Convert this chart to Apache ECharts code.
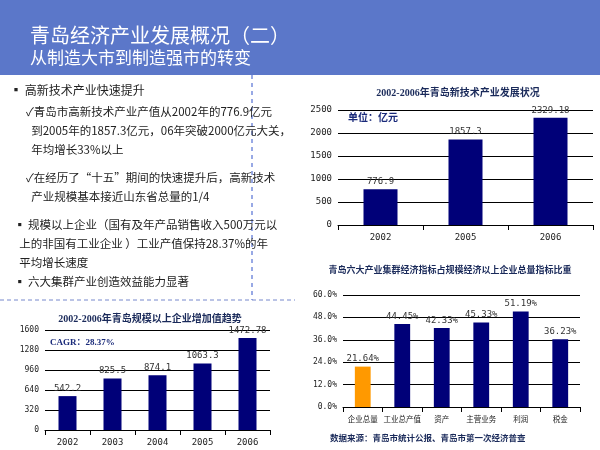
<!DOCTYPE html>
<html><head><meta charset="utf-8">
<script src="https://cdn.jsdelivr.net/npm/echarts@6/dist/echarts.min.js"></script>
<style>html,body{margin:0;padding:0;background:#fff}#c{width:600px;height:450px}</style>
</head><body><div id="c"></div>
<script>
const hiCats = ['2002','2005','2006'];
const hiVals = [776.9,1857.3,2329.18];
const hiLabels = ['776.9','1857.3','2329.18'];
const gyCats = ['2002','2003','2004','2005','2006'];
const gyVals = [542.2,825.5,874.1,1063.3,1472.78];
const gyLabels = ['542.2','825.5','874.1','1063.3','1472.78'];
const clCats = ['企业总量','工业总产值','资产','主营业务','利润','税金'];
const clVals = [21.64,44.45,42.33,45.33,51.19,36.23];
const hiTicks = [0,500,1000,1500,2000,2500];
const gyTicks = [0,320,640,960,1280,1600];
const clTicks = [0,12,24,36,48,60];

const NAVY = '#000078';
const mono = '"DejaVu Sans Mono", monospace';
const serifCJK = '"Liberation Serif","Noto Sans CJK SC",serif';
const cjk = '"Noto Sans CJK SC", sans-serif';

function axisY(gridIndex, ticks, fmt, fs) {
  return {type:'value', gridIndex, min:ticks[0], max:ticks[ticks.length-1], interval:ticks[1]-ticks[0],
    axisLine:{show:false}, axisTick:{show:false},
    splitLine:{lineStyle:{color:'#000',width:1}},
    axisLabel:{fontFamily:mono, fontSize:fs, color:'#222', formatter:fmt, margin:6}};
}
function axisX(gridIndex, cats, fs) {
  return {type:'category', gridIndex, data:cats,
    axisLine:{lineStyle:{color:'#000'}}, axisTick:{show:true,lineStyle:{color:'#000'}},
    axisLabel:{interval:0, fontFamily:(gridIndex===2?cjk:mono), fontSize:fs, color:'#222', margin:8}};
}
const labelStyle = {show:true, position:'top', fontFamily:mono, fontSize:9, color:'#333', distance:3};

const chart = echarts.init(document.getElementById('c'));
chart.setOption({
  animation:false,
  grid:[
    {left:338,top:110,width:255,height:115},
    {left:45,top:330,width:225,height:100},
    {left:343,top:295,width:237,height:112}
  ],
  xAxis:[axisX(0,hiCats,9), axisX(1,gyCats,9), axisX(2,clCats,7.5)],
  yAxis:[axisY(0,hiTicks,v=>String(v),9), axisY(1,gyTicks,v=>String(v),8), axisY(2,clTicks,v=>v.toFixed(1)+'%',8)],
  series:[
    {type:'bar',xAxisIndex:0,yAxisIndex:0,data:hiVals,barWidth:'40%',itemStyle:{color:NAVY},
      label:Object.assign({},labelStyle,{formatter:p=>hiLabels[p.dataIndex]})},
    {type:'bar',xAxisIndex:1,yAxisIndex:1,data:gyVals,barWidth:'40%',itemStyle:{color:NAVY},
      label:Object.assign({},labelStyle,{formatter:p=>gyLabels[p.dataIndex]})},
    {type:'bar',xAxisIndex:2,yAxisIndex:2,barWidth:'40%',
      data:clVals.map((v,i)=>({value:v,itemStyle:{color:i===0?'#ff9900':NAVY}})),
      label:Object.assign({},labelStyle,{formatter:p=>p.value.toFixed(2)+'%'})}
  ],
  graphic:[
    {type:'rect',shape:{x:0,y:0,width:600,height:75},style:{fill:'#5b77c9'}},
    {type:'text',left:30,top:25,style:{text:'青岛经济产业发展概况（二）',font:'20px '+cjk,fill:'#fff'}},
    {type:'text',left:30,top:49,style:{text:'从制造大市到制造强市的转变',font:'17px '+cjk,fill:'#fff'}},
    {type:'line',shape:{x1:252,y1:75,x2:252,y2:300},style:{stroke:'#3355cc',lineDash:[4,4],lineWidth:1}},
    {type:'line',shape:{x1:0,y1:300,x2:295,y2:300},style:{stroke:'#7788cc',lineDash:[4,3],lineWidth:1}},
    {type:'text',left:10,top:84,style:{text:'▪ 高新技术产业快速提升',font:'12px '+cjk,fill:'#222'}},
    {type:'text',left:26,top:102,style:{text:'✓青岛市高新技术产业产值从2002年的776.9亿元\n  到2005年的1857.3亿元，06年突破2000亿元大关，\n  年均增长33%以上',font:'11.5px '+cjk,lineHeight:19,fill:'#222'}},
    {type:'text',left:26,top:168,style:{text:'✓在经历了“十五”期间的快速提升后，高新技术\n  产业规模基本接近山东省总量的1/4',font:'11.5px '+cjk,lineHeight:19,fill:'#222'}},
    {type:'text',left:14,top:215,style:{text:'▪ 规模以上企业（国有及年产品销售收入500万元以\n  上的非国有工业企业 ）工业产值保持28.37%的年\n  平均增长速度',font:'11.5px '+cjk,lineHeight:19,fill:'#222'}},
    {type:'text',left:14,top:276,style:{text:'▪ 六大集群产业创造效益能力显著',font:'11.5px '+cjk,fill:'#222'}},
    {type:'text',x:458,y:93,style:{text:'2002-2006年青岛新技术产业发展状况',font:'bold 10px '+serifCJK,fill:'#1a2a5a',textAlign:'center',textVerticalAlign:'middle'}},
    {type:'text',left:348,top:112,style:{text:'单位：亿元',font:'bold 10px '+cjk,fill:'#1a2a7a'}},
    {type:'text',x:150,y:319,style:{text:'2002-2006年青岛规模以上企业增加值趋势',font:'bold 10px '+serifCJK,fill:'#1a2a5a',textAlign:'center',textVerticalAlign:'middle'}},
    {type:'text',left:50,top:338,style:{text:'CAGR：28.37%',font:'bold 9px '+serifCJK,fill:'#1a2a7a'}},
    {type:'text',x:450,y:270,style:{text:'青岛六大产业集群经济指标占规模经济以上企业总量指标比重',font:'bold 9px '+cjk,fill:'#1a2a5a',textAlign:'center',textVerticalAlign:'middle'}},
    {type:'text',left:330,top:434,style:{text:'数据来源：青岛市统计公报、青岛市第一次经济普查',font:'bold 8.5px '+cjk,fill:'#1a2a5a'}}
  ]
});
</script></body></html>
